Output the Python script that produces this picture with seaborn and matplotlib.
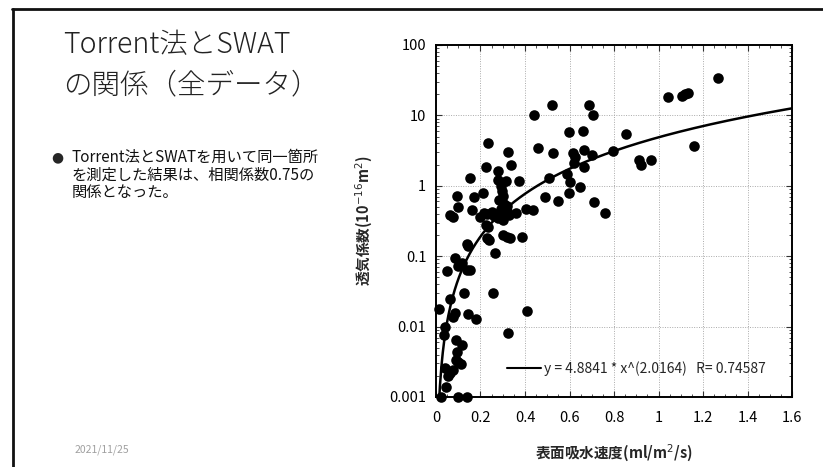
import numpy as np
import pandas as pd
import matplotlib
matplotlib.use("Agg")
import matplotlib.pyplot as plt
import matplotlib.ticker as mticker
from matplotlib.lines import Line2D
import seaborn as sns

# ---- data ----
swat_x = [
    0.235, 0.322, 0.442, 0.520, 0.596, 0.659, 0.688, 0.707, 0.853, 0.457,
    0.527, 0.614, 0.625, 0.667, 0.700, 0.797, 1.267, 1.043, 1.107, 1.120,
    1.134, 1.161, 0.914, 0.920, 0.965,
    0.223, 0.277, 0.337, 0.153, 0.280, 0.315, 0.375, 0.508, 0.590, 0.620,
    0.667, 0.602, 0.647, 0.597, 0.490, 0.548, 0.711, 0.761, 0.403, 0.437,
    0.096, 0.100, 0.063, 0.075, 0.162, 0.171, 0.213,
    0.290, 0.295, 0.300, 0.285, 0.305, 0.320, 0.290, 0.200, 0.215, 0.230,
    0.250, 0.270, 0.290, 0.310, 0.330, 0.360, 0.300, 0.280, 0.320, 0.260,
    0.223, 0.235, 0.231, 0.240, 0.300, 0.320, 0.333, 0.385, 0.265, 0.141,
    0.145,
    0.085, 0.051, 0.116, 0.100, 0.138, 0.153, 0.063, 0.127, 0.255, 0.015,
    0.085, 0.078, 0.145, 0.180, 0.410, 0.325, 0.040, 0.036, 0.088, 0.116,
    0.096, 0.088, 0.111, 0.100, 0.040, 0.063, 0.078, 0.055, 0.045, 0.021,
    0.100, 0.138,
]
torrent_k = [
    4.1, 3.0, 10.0, 14.0, 5.9, 6.1, 14.0, 10.0, 5.5, 3.4,
    2.9, 2.95, 2.6, 3.2, 2.7, 3.1, 34.0, 18.0, 19.0, 20.0,
    21.0, 3.7, 2.3, 2.0, 2.3,
    1.85, 1.6, 2.0, 1.3, 1.21, 1.17, 1.18, 1.29, 1.47, 2.09,
    1.83, 1.12, 0.96, 0.80, 0.70, 0.61, 0.58, 0.41, 0.47, 0.45,
    0.71, 0.50, 0.38, 0.36, 0.46, 0.70, 0.78,
    1.0, 0.85, 0.72, 0.62, 0.55, 0.52, 0.47, 0.36, 0.41, 0.40,
    0.42, 0.40, 0.38, 0.40, 0.38, 0.41, 0.33, 0.35, 0.44, 0.37,
    0.28, 0.26, 0.18, 0.17, 0.20, 0.19, 0.18, 0.19, 0.11, 0.15,
    0.14,
    0.093, 0.062, 0.079, 0.072, 0.064, 0.064, 0.025, 0.030, 0.030, 0.0178,
    0.0155, 0.0138, 0.015, 0.0127, 0.0167, 0.008, 0.010, 0.0076, 0.0065, 0.0055,
    0.0044, 0.0034, 0.0029, 0.0031, 0.0026, 0.0022, 0.0024, 0.0020, 0.00137, 0.001,
    0.001, 0.001,
]
fit_a = 4.8841
fit_b = 2.0164
fit_r = 0.74587

x_ticks = [0, 0.2, 0.4, 0.6, 0.8, 1.0, 1.2, 1.4, 1.6]
x_tick_labels = ["0", "0.2", "0.4", "0.6", "0.8", "1", "1.2", "1.4", "1.6"]
y_ticks = [0.001, 0.01, 0.1, 1, 10, 100]
y_tick_labels = ["0.001", "0.01", "0.1", "1", "10", "100"]

title_text = "Torrent法とSWAT\nの関係（全データ）"
bullet_text = "Torrent法とSWATを用いて同一箇所\nを測定した結果は、相関係数0.75の\n関係となった。"
date_text = "2021/11/25"
x_label = "表面吸水速度(ml/m$^2$/s)"
y_label = "透気係数(10$^{-16}$m$^2$)"

df = pd.DataFrame({"x": swat_x, "y": torrent_k})
fit_x = np.linspace(0.0145, 1.6, 500)
fit_df = pd.DataFrame({"x": fit_x, "y": fit_a * fit_x ** fit_b})

# ---- style ----
sns.set_style("white")
plt.rcParams["font.family"] = ["Noto Sans CJK JP", "DejaVu Sans"]
plt.rcParams["mathtext.fontset"] = "dejavusans"

fig = plt.figure(figsize=(8.23, 4.67), dpi=100)
fig.patch.set_facecolor("white")

# slide border (top and left)
fig.add_artist(Line2D([12 / 823, 1.0], [1 - 9 / 467, 1 - 9 / 467], color="#111111", lw=2.0,
                      transform=fig.transFigure))
fig.add_artist(Line2D([13 / 823, 13 / 823], [1 - 9 / 467, 0.0], color="#111111", lw=2.0,
                      transform=fig.transFigure))

ax = fig.add_axes([436 / 823, 1 - 397 / 467, 356 / 823, 352 / 467])

sns.lineplot(data=fit_df, x="x", y="y", ax=ax, color="black", lw=1.8, zorder=3)
sns.scatterplot(data=df, x="x", y="y", ax=ax, color="black", s=58, linewidth=0,
                zorder=4, clip_on=False)

ax.set_yscale("log")
ax.set_xlim(0, 1.6)
ax.set_ylim(0.001, 100)
ax.set_xticks(x_ticks)
ax.set_xticklabels(x_tick_labels)
ax.set_yticks(y_ticks)
ax.set_yticklabels(y_tick_labels)
ax.xaxis.set_minor_locator(mticker.MultipleLocator(0.05))
ax.yaxis.set_minor_locator(mticker.LogLocator(base=10, subs=np.arange(2, 10)))
ax.yaxis.set_minor_formatter(mticker.NullFormatter())
ax.tick_params(which="both", direction="in", top=True, right=True, bottom=True, left=True,
               color="#333333", labelsize=10.5, labelcolor="black")
ax.tick_params(axis="y", which="major", pad=7)
ax.tick_params(axis="x", which="major", pad=10)
ax.tick_params(which="major", length=4, width=0.8)
ax.tick_params(which="minor", length=2.5, width=0.6)
ax.grid(True, which="major", color="#aaaaaa", linestyle=(0, (1, 1.5)), linewidth=0.7)
for sp in ax.spines.values():
    sp.set_color("black")
    sp.set_linewidth(1.4)

ax.set_xlabel(x_label, fontsize=10.5, fontweight="bold", labelpad=13)
ax.set_ylabel(y_label, fontsize=10.5, fontweight="bold", labelpad=10)

leg_handle = Line2D([], [], color="black", lw=1.5)
ax.legend([leg_handle], [f"y = {fit_a} * x^({fit_b})   R= {fit_r}"], loc="lower right",
          bbox_to_anchor=(0.96, 0.025), frameon=False, fontsize=10, handlelength=2.4,
          handletextpad=0.2)

fig.text(63 / 823, 1 - 30 / 467, title_text, fontsize=20.5, fontweight=200, va="top",
         ha="left", color="#222222", linespacing=1.4)
fig.text(51 / 823, 1 - 157 / 467, "●", fontsize=10, va="center", ha="left",
         family=["DejaVu Sans"])
fig.text(72 / 823, 1 - 149 / 467, bullet_text, fontsize=11, va="top", ha="left",
         linespacing=1.05, color="#111111")
fig.text(75 / 823, 1 - 450 / 467, date_text, fontsize=7.5, va="center", ha="left",
         color="#a0a0a0")

fig.savefig("out.png", dpi=100, facecolor="white")
